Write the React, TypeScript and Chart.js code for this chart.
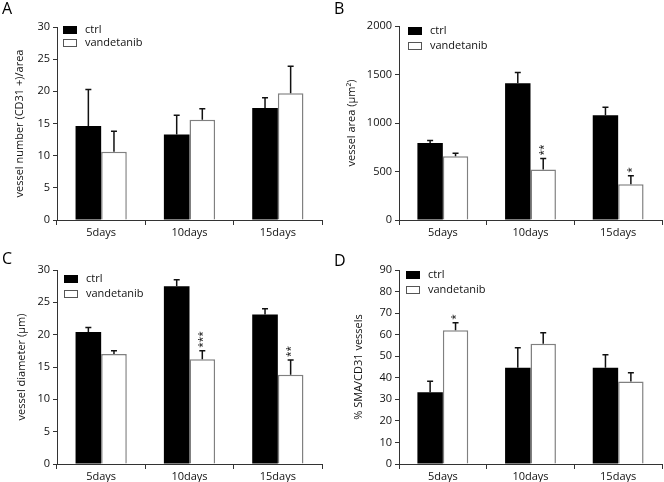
import React, { useEffect, useRef } from 'react';
import { Chart, registerables } from 'chart.js';

Chart.register(...registerables);

// ---------- data ----------
const categories = ['5days', '10days', '15days'];
const seriesNames = ['ctrl', 'vandetanib'];

const aCtrl = [14.6, 13.3, 17.4];
const aCtrlSd = [5.7, 3.0, 1.6];
const aVand = [10.6, 15.6, 19.7];
const aVandSd = [3.2, 1.7, 4.2];
const aSig = ['', '', ''];

const bCtrl = [795, 1410, 1080];
const bCtrlSd = [25, 110, 83];
const bVand = [658, 520, 368];
const bVandSd = [30, 115, 87];
const bSig = ['', '**', '*'];

const cCtrl = [20.4, 27.5, 23.1];
const cCtrlSd = [0.7, 1.0, 0.9];
const cVand = [17.0, 16.2, 13.8];
const cVandSd = [0.5, 1.3, 2.3];
const cSig = ['', '***', '**'];

const dCtrl = [33.3, 44.6, 44.7];
const dCtrlSd = [5.1, 9.3, 6.0];
const dVand = [62.0, 55.8, 38.3];
const dVandSd = [3.5, 5.1, 4.0];
const dSig = ['*', '', ''];

const yMax = [30, 2000, 30, 90];
const yStep = [5, 500, 5, 10];
const yTitles = ['vessel number (CD31 +)/area', 'vessel area (\u03bcm\u00b2)', 'vessel diameter (\u03bcm)', '% SMA/CD31 vessels'];
const letters = ['A', 'B', 'C', 'D'];

const FONT = "'Open Sans', 'DejaVu Sans', sans-serif";
const AXIS = '#333333';

type Panel = {
  letter: string;
  ctrl: number[]; ctrlSd: number[]; vand: number[]; vandSd: number[]; sig: string[];
  max: number; step: number; title: string;
  yWidth: number; padTop: number; padRight: number; xHeight: number; titlePad: number;
  letterY: number; legDx: number; legDy: number; legGap: number;
};

const panels: Panel[] = [
  { letter: letters[0], ctrl: aCtrl, ctrlSd: aCtrlSd, vand: aVand, vandSd: aVandSd, sig: aSig, max: yMax[0], step: yStep[0], title: yTitles[0],
    yWidth: 57, padTop: 27, padRight: 10, xHeight: 21, titlePad: 13, letterY: 14, legDx: 6, legDy: -1, legGap: 13 },
  { letter: letters[1], ctrl: bCtrl, ctrlSd: bCtrlSd, vand: bVand, vandSd: bVandSd, sig: bSig, max: yMax[1], step: yStep[1], title: yTitles[1],
    yWidth: 67, padTop: 26, padRight: 2, xHeight: 21, titlePad: 13, letterY: 14, legDx: 9, legDy: 1, legGap: 15 },
  { letter: letters[2], ctrl: cCtrl, ctrlSd: cCtrlSd, vand: cVand, vandSd: cVandSd, sig: cSig, max: yMax[2], step: yStep[2], title: yTitles[2],
    yWidth: 57, padTop: 29, padRight: 10, xHeight: 18, titlePad: 15, letterY: 23, legDx: 7, legDy: 5, legGap: 15 },
  { letter: letters[3], ctrl: dCtrl, ctrlSd: dCtrlSd, vand: dVand, vandSd: dVandSd, sig: dSig, max: yMax[3], step: yStep[3], title: yTitles[3],
    yWidth: 67, padTop: 29, padRight: 2, xHeight: 18, titlePad: 20, letterY: 25, legDx: 7, legDy: 1, legGap: 15 },
];

// ---------- plugins ----------
const extrasPlugin = {
  id: 'extras',
  afterDatasetsDraw(chart: any, _args: any, opts: any) {
    const ctx = chart.ctx;
    const y = chart.scales.y;
    const area = chart.chartArea;
    ctx.save();
    // error bars
    chart.data.datasets.forEach((ds: any, di: number) => {
      const meta = chart.getDatasetMeta(di);
      meta.data.forEach((bar: any, i: number) => {
        const v = ds.data[i];
        const sd = ds.sd[i];
        const top = y.getPixelForValue(v + sd);
        ctx.strokeStyle = '#111';
        ctx.lineWidth = 1.5;
        ctx.beginPath();
        ctx.moveTo(bar.x, bar.y);
        ctx.lineTo(bar.x, top);
        ctx.moveTo(bar.x - 3, top);
        ctx.lineTo(bar.x + 3, top);
        ctx.stroke();
        const s = ds.sig ? ds.sig[i] : '';
        if (s) {
          ctx.save();
          ctx.translate(bar.x, top - 3);
          ctx.rotate(-Math.PI / 2);
          ctx.fillStyle = '#111';
          ctx.font = `10px ${FONT}`;
          ctx.textAlign = 'left';
          ctx.textBaseline = 'middle';
          ctx.fillText(s, 0, 1);
          ctx.restore();
        }
      });
    });
    // legend
    const lx = area.left + opts.legDx;
    const ly = area.top + opts.legDy;
    chart.data.datasets.forEach((ds: any, di: number) => {
      const by = ly + di * opts.legGap;
      if (di === 0) {
        ctx.fillStyle = '#000';
        ctx.fillRect(lx, by, 14, 8);
      } else {
        ctx.fillStyle = '#fff';
        ctx.fillRect(lx, by, 14, 8);
        ctx.strokeStyle = '#555';
        ctx.lineWidth = 1;
        ctx.strokeRect(lx + 0.5, by + 0.5, 13, 7);
      }
      ctx.fillStyle = '#111';
      ctx.font = `11px ${FONT}`;
      ctx.textAlign = 'left';
      ctx.textBaseline = 'middle';
      ctx.fillText(ds.label, lx + 22, by + 4);
    });
    // panel letter
    ctx.fillStyle = '#000';
    ctx.font = `16px ${FONT}`;
    ctx.textAlign = 'left';
    ctx.textBaseline = 'alphabetic';
    ctx.fillText(opts.letter, 2, opts.letterY);
    ctx.restore();
  },
};

function PanelChart({ p }: { p: Panel }) {
  const ref = useRef<HTMLCanvasElement | null>(null);
  useEffect(() => {
    if (!ref.current) return;
    const chart = new Chart(ref.current, {
      type: 'bar',
      data: {
        labels: categories,
        datasets: [
          { label: seriesNames[0], data: p.ctrl, sd: p.ctrlSd, sig: [], backgroundColor: '#000', borderColor: '#000', borderWidth: 0,
            categoryPercentage: 0.58, barPercentage: 1.0 } as any,
          { label: seriesNames[1], data: p.vand, sd: p.vandSd, sig: p.sig, backgroundColor: '#fff', borderColor: '#808080', borderWidth: 1.5,
            borderSkipped: 'bottom', categoryPercentage: 0.58, barPercentage: 1.0 } as any,
        ],
      },
      options: {
        responsive: false,
        animation: false,
        devicePixelRatio: 1,
        layout: { padding: { left: 0, right: p.padRight, top: p.padTop, bottom: 0 } },
        plugins: {
          legend: { display: false },
          tooltip: { enabled: false },
          extras: { letter: p.letter, letterY: p.letterY, legDx: p.legDx, legDy: p.legDy, legGap: p.legGap },
        } as any,
        scales: {
          x: {
            grid: { display: true, drawOnChartArea: false, drawTicks: true, tickLength: 5, color: AXIS, lineWidth: 1, offset: true },
            border: { display: true, color: AXIS, width: 1 },
            ticks: { color: '#111', font: { family: FONT, size: 11 }, padding: 1, maxRotation: 0 },
            afterFit: (s: any) => { s.height = p.xHeight; },
          },
          y: {
            min: 0,
            max: p.max,
            ticks: { stepSize: p.step, color: '#111', font: { family: FONT, size: 11 }, padding: 3,
              callback: (v: any) => String(v) },
            grid: { display: true, drawOnChartArea: false, drawTicks: true, tickLength: 4, color: AXIS, lineWidth: 1 },
            border: { display: true, color: AXIS, width: 1 },
            title: { display: true, text: p.title, color: '#111', font: { family: FONT, size: 11 }, padding: { top: p.titlePad, bottom: 0 } },
            afterFit: (s: any) => { s.width = p.yWidth; },
          },
        },
      } as any,
      plugins: [extrasPlugin],
    });
    return () => chart.destroy();
  }, [p]);
  return <canvas ref={ref} width={332} height={241} style={{ display: 'block', width: 332, height: 241 }} />;
}

export default function App() {
  return (
    <div style={{ position: 'fixed', left: 0, top: 0, width: 664, height: 482, background: '#fff' }}>
      {panels.map((p, i) => (
        <div key={p.letter} style={{ position: 'absolute', left: (i % 2) * 332, top: Math.floor(i / 2) * 241, width: 332, height: 241 }}>
          <PanelChart p={p} />
        </div>
      ))}
    </div>
  );
}
